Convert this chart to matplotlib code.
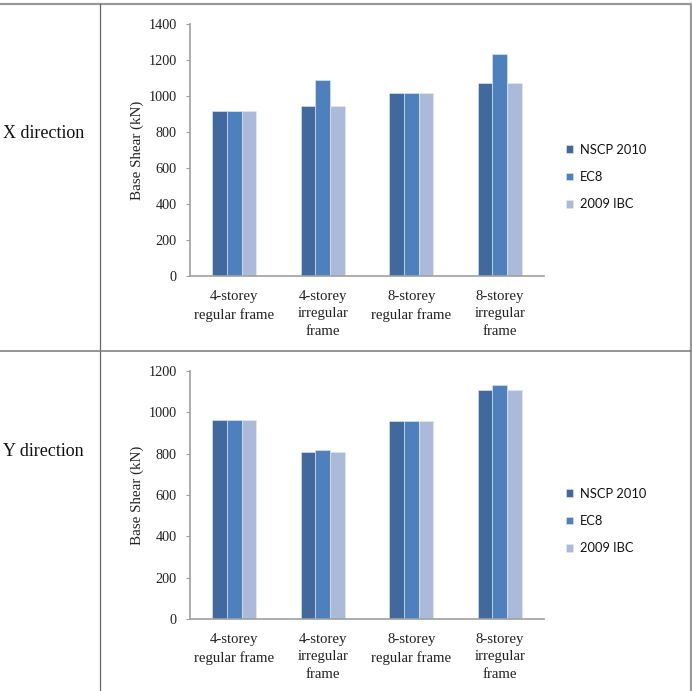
import matplotlib
matplotlib.use("Agg")
import matplotlib.pyplot as plt
import numpy as np
from matplotlib.lines import Line2D

categories = ["4-storey\nregular frame", "4-storey\nirregular\nframe",
              "8-storey\nregular frame", "8-storey\nirregular\nframe"]
series = ["NSCP 2010", "EC8", "2009 IBC"]
x_nscp = [915, 946, 1018, 1075]
x_ec8 = [915, 1091, 1018, 1235]
x_ibc = [915, 946, 1018, 1075]
y_nscp = [961, 808, 960, 1108]
y_ec8 = [961, 820, 960, 1134]
y_ibc = [961, 808, 960, 1108]
colors = ["#41699D", "#4F80BE", "#AABAD8"]

W, H = 692, 691
fig = plt.figure(figsize=(W / 100, H / 100), dpi=100)
fig.patch.set_facecolor("white")

serif = "Liberation Serif"
sans = "Lato"


def fx(px):
    return px / W


def fy(py):
    return 1 - py / H


def make_chart(rect, data, ymax, leg_y):
    ax = fig.add_axes(rect)
    idx = np.arange(len(categories))
    bw = 0.5 / 3
    for k, (vals, c, name) in enumerate(zip(data, colors, series)):
        ax.bar(idx + (k - 1) * bw, vals, width=bw, color=c, label=name,
               edgecolor="#E4EAF3", linewidth=0.4)
    ax.set_xlim(-0.5, len(categories) - 0.5)
    ax.set_ylim(0, ymax)
    ax.set_yticks(np.arange(0, ymax + 1, 200))
    ax.set_xticks(idx)
    ax.set_xticklabels(categories, fontfamily=serif, fontsize=10.6, linespacing=1.45)
    for lab in ax.get_yticklabels():
        lab.set_fontfamily(serif)
        lab.set_fontsize(10.3)
    ax.tick_params(axis="x", length=0, pad=10, colors="#222222")
    ax.tick_params(axis="y", length=3, width=0.8, color="#A0A0A0", pad=6.5,
                   labelcolor="#222222", direction="out")
    for s in ["top", "right"]:
        ax.spines[s].set_visible(False)
    for s in ["left", "bottom"]:
        ax.spines[s].set_color("#A0A0A0")
        ax.spines[s].set_linewidth(1.2)
    ax.set_ylabel("Base Shear (kN)", fontfamily=serif, fontsize=10.8,
                  color="#222222", va="center")
    ax.yaxis.set_label_coords(-0.15, 0.5)
    ax.legend(loc="center left", bbox_to_anchor=(fx(566), fy(leg_y)),
              bbox_transform=fig.transFigure, frameon=False,
              prop={"family": sans, "size": 9.3}, handlelength=0.55,
              handleheight=0.55, handletextpad=0.55, labelspacing=1.2,
              borderpad=0, borderaxespad=0, labelcolor="#111111")
    return ax


# top chart (X direction)
make_chart([fx(190), fy(276), fx(544) - fx(190), fy(24) - fy(276)],
           [x_nscp, x_ec8, x_ibc], 1400, 177)
# bottom chart (Y direction)
make_chart([fx(190), fy(619), fx(544) - fx(190), fy(371) - fy(619)],
           [y_nscp, y_ec8, y_ibc], 1200, 521)

fig.text(fx(3), fy(133), "X direction", fontfamily=serif, fontsize=13,
         ha="left", va="center", color="#111111")
fig.text(fx(3), fy(452), "Y direction", fontfamily=serif, fontsize=13,
         ha="left", va="center", color="#111111")

# table borders
fig.add_artist(Line2D([0, 1], [fy(4), fy(4)], color="#999999", lw=1.6,
                      transform=fig.transFigure))
fig.add_artist(Line2D([fx(690.5), fx(690.5)], [fy(4), 0], color="#999999", lw=1.6,
                      transform=fig.transFigure))
fig.add_artist(Line2D([fx(100), fx(100)], [fy(4), 0], color="#666666", lw=0.9,
                      transform=fig.transFigure))
fig.add_artist(Line2D([0, fx(690.5)], [fy(351), fy(351)], color="#777777", lw=1.1,
                      transform=fig.transFigure))

fig.savefig("out.png", dpi=100, facecolor="white")
